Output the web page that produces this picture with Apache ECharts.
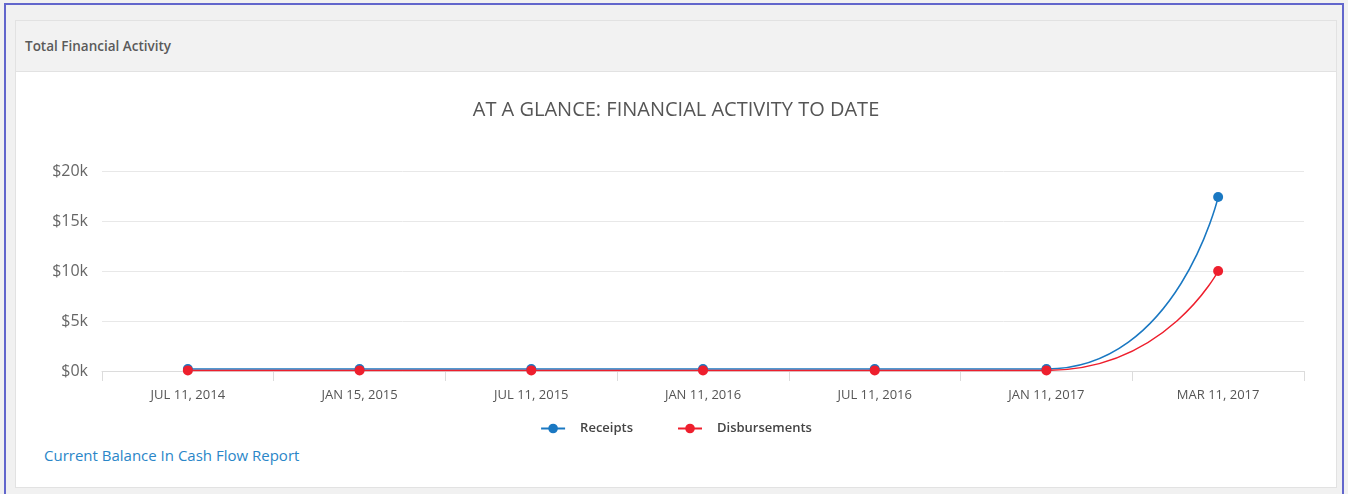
<!DOCTYPE html>
<html>
<head>
<meta charset="utf-8">
<script src="https://cdn.jsdelivr.net/npm/echarts@6/dist/echarts.min.js"></script>
<style>
  html, body { margin: 0; padding: 0; background: #f1f1f1; width: 1348px; height: 494px; overflow: hidden; font-family: 'Open Sans', Lato, sans-serif; }
  .frame { position: absolute; left: 4px; top: 3px; width: 1340px; height: 500px; border: 2px solid #6266cc; box-sizing: border-box; }
  .card { position: absolute; left: 15px; top: 20px; width: 1322px; height: 468px; background: #fff; border: 1px solid #e2e2e2; box-sizing: border-box; }
  .card-header { height: 51px; background: #f2f2f2; border-bottom: 1px solid #e2e2e2; box-sizing: border-box; padding-left: 9px; line-height: 50px; font-size: 13.5px; font-weight: 600; color: #5a5a5a; }
  .chart-container { position: absolute; left: 0; top: 51px; width: 1320px; height: 372px; }
  .link { position: absolute; left: 28px; top: 424px; font-size: 15px; color: #2a86c8; }
</style>
</head>
<body>
<div class="frame"></div>
<div class="card">
  <div class="card-header">Total Financial Activity</div>
  <div id="chart" class="chart-container"></div>
  <div class="link">Current Balance In Cash Flow Report</div>
</div>
<script>
const categories = ['JUL 11, 2014', 'JAN 15, 2015', 'JUL 11, 2015', 'JAN 11, 2016', 'JUL 11, 2016', 'JAN 11, 2017', 'MAR 11, 2017']
const receipts = [200, 200, 200, 200, 200, 200, 17400]
const disbursements = [60, 60, 60, 60, 60, 60, 10000]
const yTicks = ['$0k', '$5k', '$10k', '$15k', '$20k']

const chart = echarts.init(document.getElementById('chart'))
chart.setOption({
  animation: false,
  textStyle: { fontFamily: "'Open Sans', Lato, sans-serif" },
  title: {
    text: 'AT A GLANCE: FINANCIAL ACTIVITY TO DATE',
    left: 'center',
    top: 23,
    textStyle: { fontSize: 20, fontWeight: 'normal', color: '#555' },
  },
  legend: {
    bottom: 4,
    left: 'center',
    itemWidth: 24,
    itemHeight: 12,
    itemGap: 44,
    textStyle: { fontSize: 13, color: '#444', fontWeight: 600, padding: [0, 0, 0, 10] },
    data: ['Receipts', 'Disbursements'],
  },
  grid: { left: 86, right: 32, top: 99, height: 200 },
  xAxis: {
    type: 'category',
    data: categories,
    boundaryGap: true,
    axisLine: { lineStyle: { color: '#dcdcdc' } },
    axisTick: { show: true, length: 10, lineStyle: { color: '#dcdcdc' } },
    axisLabel: { color: '#555', fontSize: 13, margin: 18 },
  },
  yAxis: {
    type: 'value',
    min: 0,
    max: 20000,
    interval: 5000,
    axisLine: { show: false },
    axisTick: { show: false },
    axisLabel: {
      color: '#666',
      fontSize: 16,
      margin: 14,
      formatter: (v) => yTicks[v / 5000],
    },
    splitLine: { lineStyle: { color: '#e8e8e8' } },
  },
  series: [
    {
      name: 'Receipts',
      type: 'line',
      data: receipts,
      smooth: 0.65,
      symbol: 'circle',
      symbolSize: 10,
      color: '#1a78c2',
      lineStyle: { width: 1.5 },
    },
    {
      name: 'Disbursements',
      type: 'line',
      data: disbursements,
      smooth: 0.65,
      symbol: 'circle',
      symbolSize: 10,
      color: '#ee1f2d',
      lineStyle: { width: 1.5 },
    },
  ],
})
</script>
</body>
</html>
